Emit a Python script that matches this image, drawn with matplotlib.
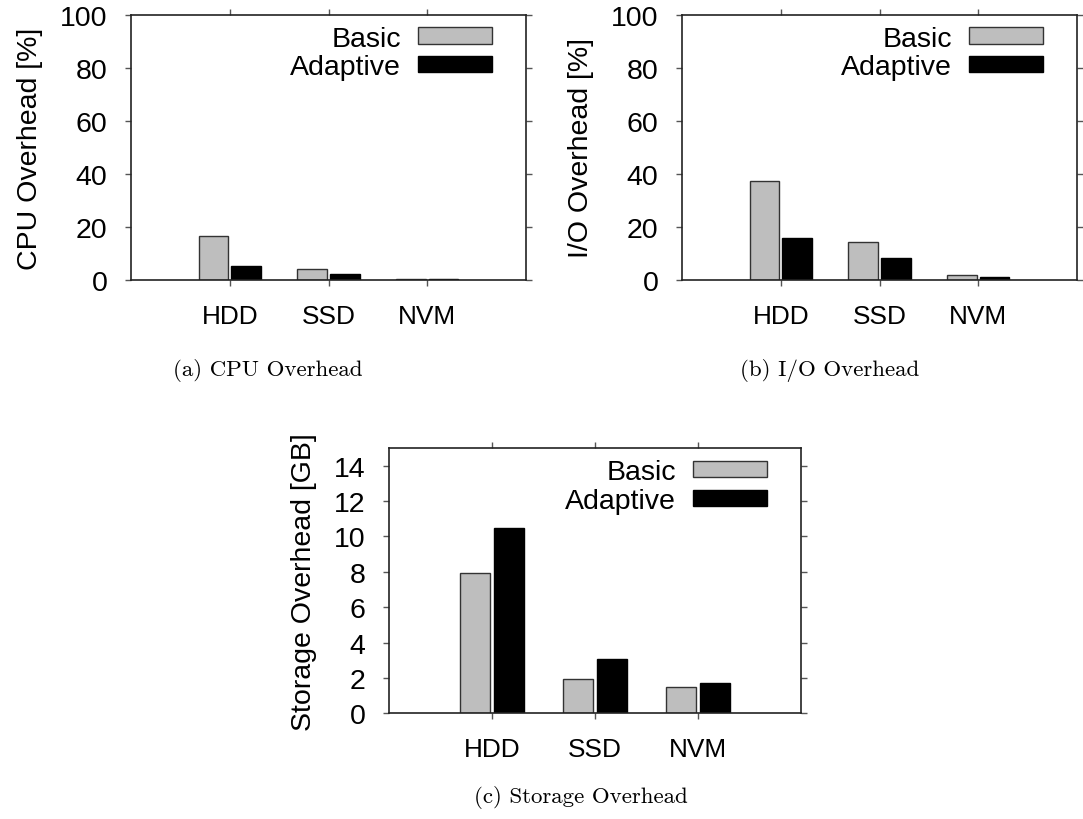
import numpy as np
import matplotlib
matplotlib.use("Agg")
import matplotlib.pyplot as plt

plt.rcParams["font.family"] = ["Liberation Sans", "DejaVu Sans"]

devices = ["HDD", "SSD", "NVM"]
series = ["Basic", "Adaptive"]

cpu_basic = [16.5, 4.1, 0.6]
cpu_adaptive = [5.3, 2.4, 0.4]
io_basic = [37.3, 14.5, 2.1]
io_adaptive = [15.8, 8.5, 1.1]
storage_basic = [7.94, 1.93, 1.47]
storage_adaptive = [10.45, 3.09, 1.70]

FS = 20.5
W = 1083
H = 820


def panel(rect, basic, adaptive, ylabel, ymax, yticks, caption, cap_xy):
    ax = fig.add_axes(rect)
    x = np.arange(1, len(devices) + 1)
    ax.bar(x - 0.165, basic, 0.3, color="#bebebe", edgecolor="#333333",
           linewidth=1.0, label=series[0])
    ax.bar(x + 0.165, adaptive, 0.3, color="black", edgecolor="black",
           linewidth=1.0, label=series[1])
    ax.set_xlim(0, 4)
    ax.set_ylim(0, ymax)
    ax.set_xticks(x)
    ax.set_xticklabels(devices, fontsize=FS * 0.92)
    ax.set_yticks(yticks)
    ax.tick_params(axis="y", labelsize=FS, pad=13)
    ax.tick_params(axis="x", pad=13)
    ax.tick_params(direction="out", top=True, right=True, length=4,
                   width=1.0, color="#555555")
    for s in ax.spines.values():
        s.set_linewidth(1.2)
        s.set_color("#222222")
    ax.set_ylabel(ylabel, fontsize=FS, labelpad=12)
    w_px = rect[2] * W
    h_px = rect[3] * H
    ax.legend(loc="upper right", frameon=False, markerfirst=False,
              fontsize=FS, handlelength=2.6, handleheight=0.5,
              handletextpad=0.6, labelspacing=0.1, borderpad=0,
              borderaxespad=0,
              bbox_to_anchor=(1.0 - 34 / w_px, 1.0 - 11 / h_px))
    fig.text(cap_xy[0] / W, 1 - cap_xy[1] / H, caption, family="cmr10",
             fontsize=16.5, ha="center", va="center")
    return ax


fig = plt.figure(figsize=(W / 100, H / 100), dpi=100)

panel([131 / W, 1 - 281.3 / H, 395 / W, 265.7 / H], cpu_basic, cpu_adaptive,
      "CPU Overhead [%]", 100, range(0, 101, 20), "(a) CPU Overhead", (268, 371))
panel([682 / W, 1 - 281.3 / H, 395 / W, 265.7 / H], io_basic, io_adaptive,
      "I/O Overhead [%]", 100, range(0, 101, 20), "(b) I/O Overhead", (830, 371))
panel([389 / W, 1 - 714.3 / H, 412 / W, 265.3 / H], storage_basic, storage_adaptive,
      "Storage Overhead [GB]", 15, range(0, 15, 2), "(c) Storage Overhead", (581, 798))

fig.savefig("out.png", dpi=100)
